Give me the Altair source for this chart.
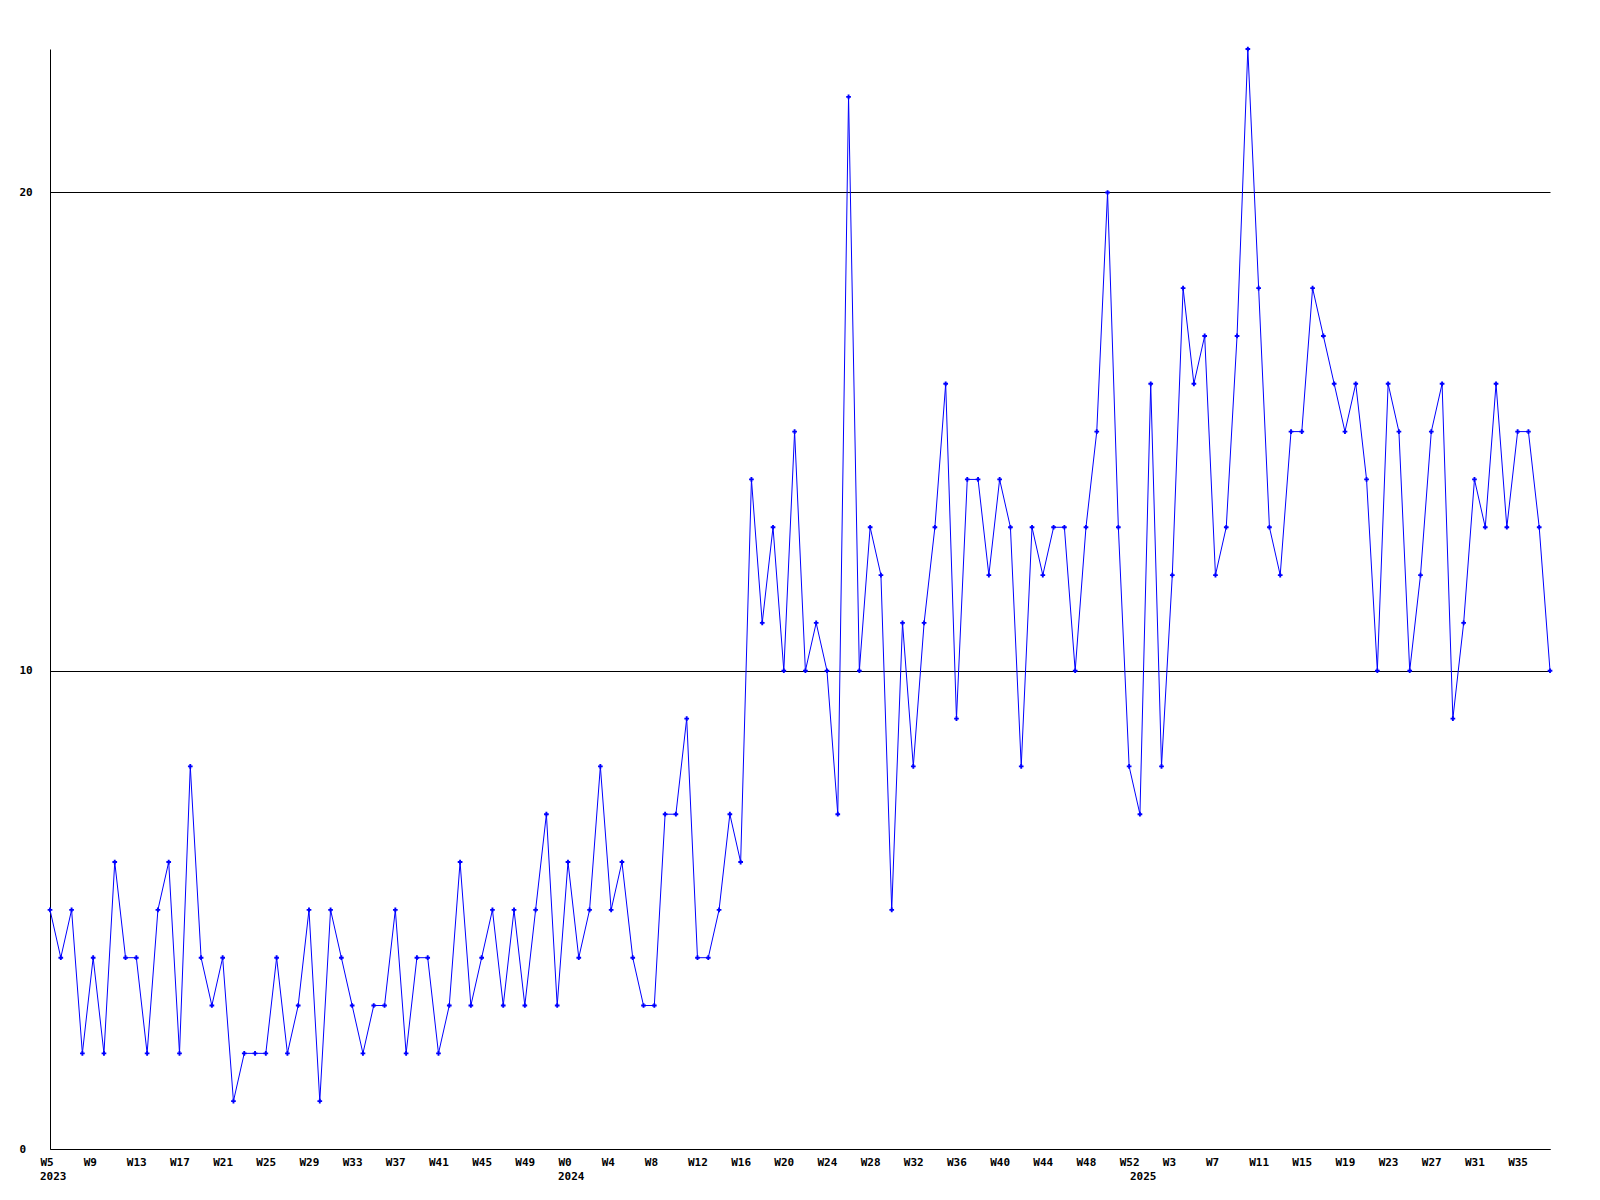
import altair as alt
import pandas as pd

# Weekly values (2023 starts at W5; 2024 and 2025 start at W0)
values_2023 = [5, 4, 5, 2, 4, 2, 6, 4, 4, 2, 5, 6, 2, 8, 4, 3, 4, 1, 2, 2,
               2, 4, 2, 3, 5, 1, 5, 4, 3, 2, 3, 3, 5, 2, 4, 4, 2, 3, 6, 3,
               4, 5, 3, 5, 3, 5, 7, 3]
values_2024 = [6, 4, 5, 8, 5, 6, 4, 3, 3, 7, 7, 9, 4, 4, 5, 7, 6, 14, 11, 13,
               10, 15, 10, 11, 10, 7, 22, 10, 13, 12, 5, 11, 8, 11, 13, 16, 9, 14, 14, 12,
               14, 13, 8, 13, 12, 13, 13, 10, 13, 15, 20, 13, 8]
values_2025 = [7, 16, 8, 12, 18, 16, 17, 12, 13, 17, 23, 18, 13, 12, 15, 15, 18, 17, 16, 15,
               16, 14, 10, 16, 15, 10, 12, 15, 16, 9, 11, 14, 13, 16, 13, 15, 15, 13, 10]

years = ["2023", "2024", "2025"]
first_weeks = [5, 0, 0]

tick_labels = ["W5", "W9", "W13", "W17", "W21", "W25", "W29", "W33", "W37", "W41", "W45", "W49",
               "W0", "W4", "W8", "W12", "W16", "W20", "W24", "W28", "W32", "W36", "W40", "W44",
               "W48", "W52", "W3", "W7", "W11", "W15", "W19", "W23", "W27", "W31", "W35"]
y_ticks = [0, 10, 20]

rows = []
year_rows = []
idx = 0
for yr, fw, vals in zip(years, first_weeks, [values_2023, values_2024, values_2025]):
    year_rows.append({"idx": idx, "year": yr})
    for k, v in enumerate(vals):
        rows.append({"idx": idx, "value": v, "year": yr, "week": fw + k})
        idx += 1
df = pd.DataFrame(rows)
df_years = pd.DataFrame(year_rows)
n = len(df)

tick_vals = list(range(0, n, 4))[:len(tick_labels)]
label_expr = "[" + ",".join("'%s'" % t for t in tick_labels) + "][round(datum.value / 4)]"

FONT = "DejaVu Sans Mono"
BLUE = "#0000ff"

x_enc = alt.X("idx:Q", scale=alt.Scale(domain=[0, n - 1], nice=False, zero=False),
              axis=alt.Axis(values=tick_vals, labelExpr=label_expr, title=None, grid=False,
                            ticks=False, tickSize=0, domain=True, domainColor="black",
                            labelAlign="left", labelOffset=-10, labelBaseline="middle",
                            labelPadding=13, labelFont=FONT, labelFontSize=11,
                            labelFontWeight="bold", labelColor="black", labelOverlap=False))
y_enc = alt.Y("value:Q", scale=alt.Scale(domain=[0, 23], nice=False),
              axis=alt.Axis(values=y_ticks, title=None, grid=True, gridColor="black",
                            gridWidth=1, gridOpacity=1, ticks=False, tickSize=0,
                            domainColor="black", labelAlign="left", labelPadding=31,
                            labelFont=FONT, labelFontSize=11, labelFontWeight="bold",
                            labelColor="black"))

line = alt.Chart(df).mark_line(color=BLUE, strokeWidth=1).encode(x=x_enc, y=y_enc)
pts = alt.Chart(df).mark_point(shape="cross", filled=True, size=22, color=BLUE, opacity=1).encode(
    x="idx:Q", y="value:Q")
yr_text = alt.Chart(df_years).mark_text(align="left", dx=-10, baseline="middle", font=FONT,
                                         fontSize=11, fontWeight="bold", color="black").encode(
    x="idx:Q", y=alt.value(1128), text="year:N")

chart = alt.layer(line, pts, yr_text).properties(
    width=1500, height=1100,
    autosize=alt.AutoSizeParams(type="none"),
    padding={"left": 42, "top": 41, "right": 40, "bottom": 45},
).configure_view(stroke=None)

chart.save("out.html", embed_options={"renderer": "svg", "actions": False})
